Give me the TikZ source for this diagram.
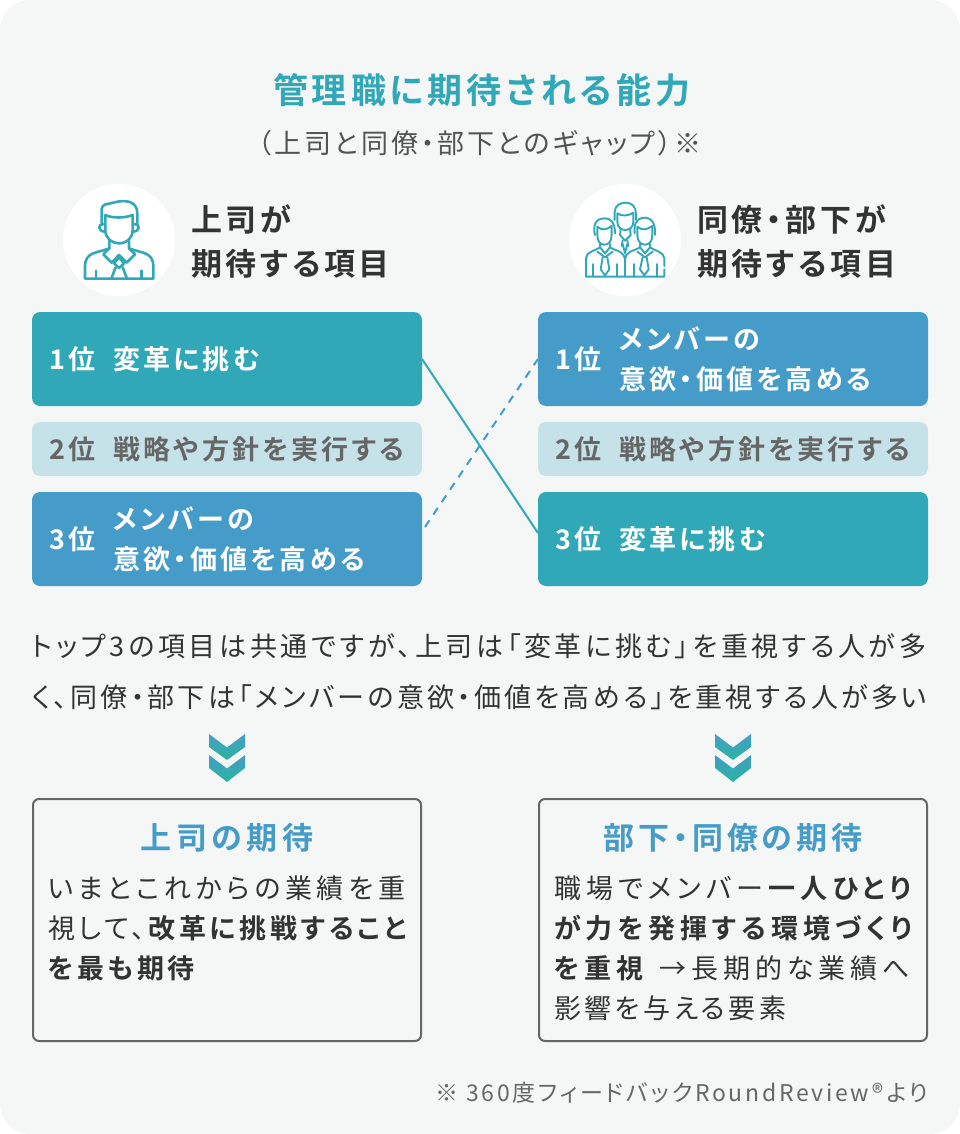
\documentclass[tikz,border=0pt]{standalone}
\usepackage{fontspec}
\newfontfamily\jpa[LetterSpace=12,RawFeature=+palt,BoldFont={Noto Sans CJK JP Bold}]{Noto Sans CJK JP}
\definecolor{bgc}{HTML}{F5F7F7}
\definecolor{teal}{HTML}{30A8B8}
\definecolor{bluec}{HTML}{459CC9}
\definecolor{pale}{HTML}{C6E2E9}
\definecolor{ink}{HTML}{333333}
\definecolor{graytx}{HTML}{666666}
\newcommand{\fs}[2]{\fontsize{#1}{#2}\selectfont}
\newcommand{\lsp}[2]{{\addfontfeatures{LetterSpace=#1}#2}}
\tikzset{
 x=1pt,y=-1pt,
 txt/.style={inner sep=0pt,outer sep=0pt,anchor=base west,align=left},
 rankbox/.style={rectangle,rounded corners=8pt,inner sep=0pt,outer sep=0pt,minimum width=390pt,anchor=north west},
 tealbox/.style={rankbox,fill=teal,minimum height=94pt},
 bluebox/.style={rankbox,fill=bluec,minimum height=94pt},
 palebox/.style={rankbox,fill=pale,minimum height=54pt},
 rankw/.style={txt,text=white,font=\jpa\bfseries\fs{27}{40}},
 rankg/.style={txt,text=graytx,font=\jpa\bfseries\fs{27}{40}},
 headt/.style={txt,text=ink,font=\jpa\bfseries\fs{31}{44}},
 framebox/.style={rectangle,draw=graytx,line width=2pt,rounded corners=6pt,minimum width=388pt,minimum height=242pt,anchor=north west,inner sep=0pt,outer sep=0pt},
 boxhead/.style={txt,anchor=base,text=bluec,font=\jpa\bfseries\fs{31}{40}},
 boxbody/.style={txt,text=ink,font=\jpa\fs{27}{40}},
 iconline/.style={draw=teal,line width=1.9pt,line join=round,line cap=round},
 iconlineb/.style={draw=teal,line width=2.6pt,line join=round,line cap=round},
 disc/.style={circle,fill=white,minimum size=112pt,inner sep=0pt},
 chev/.style={top color=bluec,bottom color=teal!85!green,draw=none},
}
\newcommand{\chevs}[1]{%
 \begin{scope}[shift={(#1,0)}]
 \shade[chev] (-18,734)--(0,747.5)--(18,734)--(18,747)--(0,760)--(-18,747)--cycle;
 \shade[chev] (-18,755)--(0,768.5)--(18,755)--(18,768)--(0,782)--(-18,768)--cycle;
 \end{scope}}
\begin{document}
\begin{tikzpicture}
\useasboundingbox (0,0) rectangle (960,1134);
\fill[bgc,rounded corners=30pt] (0,0) rectangle (960,1134);

\node[txt,text=teal,font=\jpa\bfseries\fs{35}{40}] (title) at (273,104) {\lsp{11.5}{管理職に期待される能力}};
\node[txt,text=ink!85,font=\jpa\fs{27}{40}] (sub) at (258,154) {\lsp{11}{（上司と同僚・部下とのギャップ）※}};

\node[disc] (c1) at (119,240) {};
\node[disc] (c2) at (625,240) {};
\node[headt] (h1) at (191,275) {上司が\\期待する項目};
\node[headt] (h2) at (697,275) {同僚・部下が\\期待する項目};

% single person icon
\begin{scope}[shift={(50,170)},x=0.3333pt,y=-0.3333pt]
 \draw[iconlineb] (155,160) -- (155,118) .. controls (155,100) and (175,103) .. (190,98) .. controls (225,88) and (262,92) .. (262,130) -- (262,160);
 \draw[iconlineb] (166,135) .. controls (185,145) and (225,145) .. (248,135) -- (248,180) .. controls (248,205) and (230,220) .. (207,220) .. controls (185,220) and (166,205) .. (166,180) -- cycle;
 \draw[iconlineb] (160,162) .. controls (143,162) and (143,185) .. (166,185);
 \draw[iconlineb] (254,162) .. controls (271,162) and (271,185) .. (248,185);
 \draw[iconlineb] (178,212) -- (178,235) .. controls (140,250) and (105,245) .. (105,290) -- (105,326) -- (310,326) -- (310,290) .. controls (310,245) and (275,250) .. (237,235) -- (237,212);
 \draw[iconlineb] (178,235) -- (160,253) -- (185,278) -- (207,255) -- (230,278) -- (255,253) -- (237,235);
 \draw[iconlineb] (207,262) -- (192,280) -- (207,294) -- (222,280) -- cycle;
 \draw[iconlineb] (197,292) -- (184,326) (218,292) -- (231,326);
 \draw[iconlineb] (138,302) -- (138,326) (275,302) -- (275,326);
\end{scope}

% group icon
\begin{scope}[shift={(560,170)},x=0.3333pt,y=-0.3333pt]
 % back person
 \draw[iconline] (164,150) -- (164,125) .. controls (164,105) and (185,98) .. (197,98) .. controls (215,98) and (228,110) .. (228,130) -- (228,150);
 \draw[iconline] (172,130) .. controls (185,140) and (205,138) .. (220,128) -- (220,155) .. controls (220,172) and (208,180) .. (196,180) .. controls (184,180) and (172,172) .. (172,155) -- cycle;
 \draw[iconline] (182,176) -- (180,195) -- (195,212) -- (212,195) -- (210,176);
 \draw[iconline] (188,212) -- (185,228) (202,212) -- (205,228);
 \draw[iconline] (188,222) -- (195,250) -- (202,222);
 % left person
 \draw[iconline,fill=white] (78,320) -- (78,265) .. controls (80,245) and (100,245) .. (120,232) -- (135,250) -- (150,232) .. controls (170,245) and (195,240) .. (195,275) -- (195,320) -- cycle;
 \draw[iconline,fill=white] (112,170) .. controls (125,182) and (140,180) .. (155,168) -- (155,195) .. controls (155,215) and (145,224) .. (133,224) .. controls (121,224) and (112,215) .. (112,195) -- cycle;
 \draw[iconline] (105,195) .. controls (100,175) and (100,145) .. (135,145) .. controls (150,145) and (165,155) .. (165,190);
 \draw[iconline] (120,222) -- (120,232) (150,222) -- (150,232);
 \draw[iconline] (112,245) -- (135,262) -- (158,245);
 \draw[iconline] (128,262) -- (122,298) -- (135,316) -- (148,298) -- (142,262);
 \draw[iconline] (100,282) -- (100,320) (172,282) -- (172,320);
 % right person
 \draw[iconline,fill=white] (313,288) -- (313,265) .. controls (310,245) and (290,245) .. (270,232) -- (255,250) -- (240,232) .. controls (220,245) and (195,240) .. (195,275) -- (195,320) -- (313,320) -- (313,298);
 \draw[iconline,fill=white] (232,170) .. controls (245,182) and (260,180) .. (277,168) -- (277,195) .. controls (277,215) and (267,224) .. (255,224) .. controls (243,224) and (232,215) .. (232,195) -- cycle;
 \draw[iconline] (224,190) .. controls (222,165) and (225,145) .. (255,143) .. controls (275,143) and (287,160) .. (285,195);
 \draw[iconline] (240,222) -- (240,232) (270,222) -- (270,232);
 \draw[iconline] (232,245) -- (255,262) -- (278,245);
 \draw[iconline] (248,262) -- (240,298) -- (253,316) -- (266,298) -- (260,262);
 \draw[iconline] (222,282) -- (222,320) (292,282) -- (292,320);
\end{scope}

% rank boxes
\node[tealbox] (a1) at (32,312) {};
\node[palebox] (a2) at (32,422) {};
\node[bluebox] (a3) at (32,492) {};
\node[bluebox] (b1) at (538,312) {};
\node[palebox] (b2) at (538,422) {};
\node[tealbox] (b3) at (538,492) {};

\node[rankw] (a1r) at (49,369) {1位};
\node[rankw] (a1t) at (113,369) {変革に挑む};
\node[rankg] (a2r) at (49,459) {2位};
\node[rankg] (a2t) at (113,459) {戦略や方針を実行する};
\node[rankw] (a3r) at (49,549) {3位};
\node[rankw] (a3t) at (113,569) {メンバーの\\意欲・価値を高める};
\node[rankw] (b1r) at (555,369) {1位};
\node[rankw] (b1t) at (619,389) {メンバーの\\意欲・価値を高める};
\node[rankg] (b2r) at (555,459) {2位};
\node[rankg] (b2t) at (619,459) {戦略や方針を実行する};
\node[rankw] (b3r) at (555,549) {3位};
\node[rankw] (b3t) at (619,549) {変革に挑む};

% crossing connectors
\draw[teal,line width=2pt] (a1.east) -- ([yshift=6pt]b3.west);
\draw[bluec,line width=2pt,dash pattern=on 8pt off 7pt] ([xshift=3pt,yshift=12pt]a3.east) -- (b1.west);

\node[txt,text=ink,font=\jpa\fs{27}{51}] (body) at (32,707) {\lsp{13.6}{トップ3の項目は共通ですが、上司は「変革に挑む」を重視する人が多}\\く、同僚・部下は「メンバーの意欲・価値を高める」を重視する人が多い};

\chevs{227}
\chevs{733}

\node[framebox] (f1) at (33,799) {};
\node[framebox] (f2) at (539,799) {};
\node[boxhead] (f1h) at (227,849) {\lsp{15}{上司の期待}};
\node[boxhead] (f2h) at (733,849) {部下・同僚の期待};
\node[boxbody] (f1b) at (48,978) {\lsp{17.2}{いまとこれからの業績を重}\\\lsp{13.5}{視して、\textbf{改革に挑戦すること}}\\\lsp{13}{\textbf{を最も期待}}};
\node[boxbody] (f2b) at (554,1018) {\lsp{19}{職場でメンバー\textbf{一人ひとり}}\\\lsp{18.2}{\textbf{が力を発揮する環境づくり}}\\\lsp{18.2}{\textbf{を重視} →長期的な業績へ}\\\lsp{13}{影響を与える要素}};

\node[txt,anchor=base east,text=graytx,font=\jpa\fs{23}{30}] (note) at (928,1101) {\lsp{11.7}{※ 360度フィードバックRoundReview®より}};
\end{tikzpicture}
\end{document}
